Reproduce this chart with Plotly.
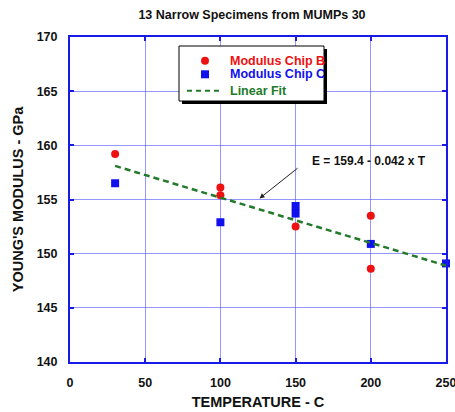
import plotly.graph_objects as go

# Data
chip_b_temp = [30, 100, 100, 150, 200, 200]
chip_b_mod = [159.2, 156.1, 155.4, 152.5, 153.5, 148.6]
chip_c_temp = [30, 100, 150, 150, 200, 250]
chip_c_mod = [156.5, 152.9, 154.4, 153.7, 150.9, 149.1]
fit_temp = [30, 250]
fit_mod = [158.1, 148.9]

x_ticks = [0, 50, 100, 150, 200, 250]
y_ticks = [140, 145, 150, 155, 160, 165, 170]

series_names = ["Modulus Chip B", "Modulus Chip C", "Linear Fit"]

FONT = "Liberation Sans, Arial, sans-serif"
RED = "#ee1111"
BLUE = "#1111ee"
GREEN = "#237a2a"
AXIS = "#1a1ae6"
GRID = "rgba(80,80,255,0.6)"

W, H = 455, 412
ML, MR, MT, MB = 70, 9, 37, 50
PW, PH = W - ML - MR, H - MT - MB


def px(xp):
    return (xp - ML) / PW


def py(yp):
    return (H - MB - yp) / PH


fig = go.Figure()
fig.add_trace(go.Scatter(
    x=chip_b_temp, y=chip_b_mod, mode="markers", name=series_names[0],
    marker=dict(symbol="circle", size=8, color=RED), cliponaxis=False))
fig.add_trace(go.Scatter(
    x=chip_c_temp, y=chip_c_mod, mode="markers", name=series_names[1],
    marker=dict(symbol="square", size=8, color=BLUE), cliponaxis=False))
fig.add_trace(go.Scatter(
    x=fit_temp, y=fit_mod, mode="lines", name=series_names[2],
    line=dict(color=GREEN, width=2.5, dash="6px,4px")))

# ---- hand-drawn legend box with drop shadow ----
fig.add_shape(type="rect", xref="paper", yref="paper",
              x0=px(182), x1=px(327), y0=py(104), y1=py(49),
              fillcolor="black", line=dict(width=0), layer="above")
fig.add_shape(type="rect", xref="paper", yref="paper",
              x0=px(179), x1=px(324), y0=py(101), y1=py(46),
              fillcolor="white", line=dict(color="black", width=1), layer="above")
# symbols
fig.add_shape(type="circle", xref="paper", yref="paper",
              xsizemode="pixel", ysizemode="pixel",
              xanchor=px(205), yanchor=py(60.7), x0=-4, x1=4, y0=-4, y1=4,
              fillcolor=RED, line=dict(width=0), layer="above")
fig.add_shape(type="rect", xref="paper", yref="paper",
              xsizemode="pixel", ysizemode="pixel",
              xanchor=px(205), yanchor=py(74.3), x0=-4, x1=4, y0=-4, y1=4,
              fillcolor=BLUE, line=dict(width=0), layer="above")
fig.add_shape(type="line", xref="paper", yref="paper",
              x0=px(187), x1=px(222), y0=py(90.7), y1=py(90.7),
              line=dict(color=GREEN, width=2, dash="5px,4px"), layer="above")
for name, col, yrow in zip(series_names, [RED, BLUE, GREEN], [60.7, 74.3, 90.7]):
    fig.add_annotation(x=px(228), y=py(yrow), xref="paper", yref="paper",
                       xanchor="left", yanchor="middle", showarrow=False,
                       text=name,
                       font=dict(family=FONT, size=12.5, color=col, weight="bold"))

# ---- fit equation with arrow ----
fig.add_annotation(x=126, y=155.1, ax=152.3, ay=158.0, xref="x", yref="y",
                   axref="x", ayref="y", text="", showarrow=True,
                   arrowhead=2, arrowsize=1, arrowwidth=1, arrowcolor="#222222")
fig.add_annotation(x=198.8, y=158.6, xref="x", yref="y",
                   text="E = 159.4 - 0.042 x T", showarrow=False,
                   font=dict(family=FONT, size=12, color="#111111", weight="bold"))

axis_common = dict(
    showline=True, linecolor=AXIS, linewidth=2, mirror="ticks",
    ticks="inside", ticklen=4, tickwidth=2, tickcolor=AXIS,
    showgrid=True, gridcolor=GRID, gridwidth=1, zeroline=False,
    automargin=False, ticklabeloverflow="allow",
    tickfont=dict(family=FONT, size=12.5, color="#111111", weight="bold"),
)

fig.update_layout(
    width=W, height=H,
    margin=dict(l=ML, r=MR, t=MT, b=MB),
    paper_bgcolor="white", plot_bgcolor="white",
    font=dict(family=FONT, color="#111111"),
    title=dict(text="13 Narrow Specimens from MUMPs 30", x=252 / W, xanchor="center",
               y=1 - 15 / H, yanchor="middle",
               font=dict(family=FONT, size=12.5, color="#111111", weight="bold")),
    xaxis=dict(range=[0, 250], tickvals=x_ticks, ticklabelstandoff=8,
               title=dict(text="TEMPERATURE - C", standoff=8,
                          font=dict(family=FONT, size=14.5, color="#111111", weight="bold")),
               **axis_common),
    yaxis=dict(range=[140, 170], tickvals=y_ticks, ticklabelstandoff=8,
               title=dict(text="YOUNG'S MODULUS - GPa", standoff=10,
                          font=dict(family=FONT, size=14.5, color="#111111", weight="bold")),
               **axis_common),
    showlegend=False,
)

fig.write_html("out.html")
